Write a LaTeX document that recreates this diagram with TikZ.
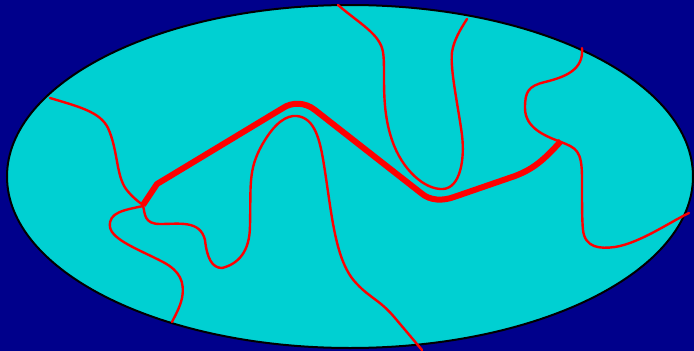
\documentclass[tikz,border=0pt]{standalone}
\definecolor{bgnavy}{RGB}{0,0,139}
\definecolor{sea}{RGB}{0,208,210}
\tikzset{thinred/.style={draw=red,line width=2.4pt,line cap=round,line join=round},
         thickred/.style={draw=red,line width=6pt,line join=round}}
\begin{document}
\begin{tikzpicture}[x=1pt,y=-1pt]
\useasboundingbox (0,0) rectangle (694,351);
\fill[bgnavy] (0,0) rectangle (694,351);
\filldraw[fill=sea,draw=black,line width=2pt] (350,176.5) ellipse [x radius=343, y radius=171.5];
% thin curves
\draw[thinred] (50,98) .. controls (80,107) and (100,112) .. (108,128)
  .. controls (118,150) and (116,175) .. (126,189)
  .. controls (132,197) and (140,203) .. (143,205)
  .. controls (145,214) and (144,224) .. (160,224)
  .. controls (180,224) and (200,220) .. (205,240)
  .. controls (207,258) and (212,268) .. (222,268)
  .. controls (238,264) and (250,252) .. (250,225)
  .. controls (251,185) and (248,170) .. (262,145)
  .. controls (275,122) and (287,115) .. (297,116)
  .. controls (315,118) and (320,140) .. (324,165)
  .. controls (332,215) and (335,262) .. (357,284)
  .. controls (370,298) and (380,300) .. (395,318)
  -- (422,350);
\draw[thinred] (143,206) .. controls (125,210) and (108,212) .. (110,227)
  .. controls (112,240) and (140,250) .. (163,262)
  .. controls (180,271) and (185,282) .. (182,298)
  .. controls (180,307) and (176,314) .. (172,322);
\draw[thinred] (338,5) .. controls (360,24) and (380,34) .. (383,52)
  .. controls (386,70) and (380,105) .. (392,140)
  .. controls (402,170) and (425,190) .. (443,189)
  .. controls (460,188) and (465,160) .. (462,135)
  .. controls (458,105) and (450,70) .. (452,52)
  .. controls (454,40) and (460,30) .. (467,19);
\draw[thinred] (582,48) .. controls (584,70) and (565,77) .. (545,82)
  .. controls (528,86) and (525,92) .. (525,108)
  .. controls (525,128) and (545,136) .. (561,142)
  .. controls (576,148) and (582,150) .. (582,178)
  .. controls (582,205) and (582,220) .. (583,230)
  .. controls (585,248) and (600,249) .. (615,247)
  .. controls (640,243) and (670,222) .. (689,213);
% thick path
\draw[thickred] (143,205) -- (157,184) -- (283,108) .. controls (292,102) and (305,102) .. (315,110) -- (421,193) .. controls (430,201) and (443,201) .. (454,197) -- (515,176) .. controls (533,169) and (543,161) .. (561,141);
\end{tikzpicture}
\end{document}
